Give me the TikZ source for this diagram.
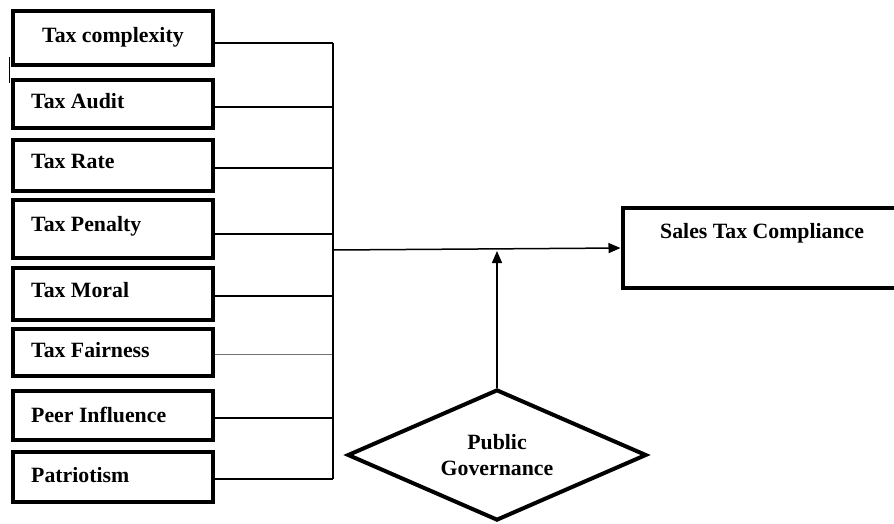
\documentclass[tikz,border=0pt]{standalone}
\usepackage{fontspec}
\setmainfont{Liberation Serif}
\usetikzlibrary{shapes.geometric,arrows.meta}
\tikzset{
  factorbox/.style={draw=black, line width=4pt, rectangle, inner sep=0pt, minimum width=200pt},
  lbl/.style={anchor=base west, inner sep=0pt, font=\fontsize{21.8}{26}\selectfont\bfseries},
  conn/.style={draw=black, line width=1.5pt},
  thinconn/.style={draw=black!55, line width=1pt},
  arr/.style={conn, -{Triangle[length=12pt,width=10pt]}},
}
\begin{document}
\begin{tikzpicture}[x=1pt,y=-1pt]
\useasboundingbox (0,0) rectangle (894,523);
% factor boxes
\node[factorbox, minimum height=54pt] (b1) at (113,38) {};
\node[factorbox, minimum height=48pt] (b2) at (113,104) {};
\node[factorbox, minimum height=51pt] (b3) at (113,165.5) {};
\node[factorbox, minimum height=58pt] (b4) at (113,229) {};
\node[factorbox, minimum height=52pt] (b5) at (113,294) {};
\node[factorbox, minimum height=47pt] (b6) at (113,352.5) {};
\node[factorbox, minimum height=49pt] (b7) at (113,415.5) {};
\node[factorbox, minimum height=50pt] (b8) at (113,477) {};
% labels
\node[lbl] (t1) at (42,42) {Tax complexity};
\node[lbl] (t2) at (31,108) {Tax Audit};
\node[lbl] (t3) at (31,168) {Tax Rate};
\node[lbl] (t4) at (31,231) {Tax Penalty};
\node[lbl] (t5) at (31,297) {Tax Moral};
\node[lbl] (t6) at (31,357) {Tax Fairness};
\node[lbl] (t7) at (31,422) {Peer Influence};
\node[lbl] (t8) at (31,482) {Patriotism};
% outcome box
\node[draw=black, line width=4pt, rectangle, inner sep=0pt, minimum width=277.5pt, minimum height=80pt] (sales) at (761.25,248) {};
\node[lbl] (ts) at (660,238) {Sales Tax Compliance};
% moderator
\node[draw=black, line width=4pt, diamond, inner sep=0pt, minimum width=299pt, minimum height=131pt, shape aspect=2.28, align=center, font=\fontsize{21.8}{26}\selectfont\bfseries] (pg) at (497,455) {Public\\Governance};
% bus junctions
\coordinate (j1) at (333,43);
\coordinate (j2) at (333,107);
\coordinate (j3) at (333,168);
\coordinate (j4) at (333,234);
\coordinate (j5) at (333,296);
\coordinate (j6) at (333,354);
\coordinate (j7) at (333,418);
\coordinate (j8) at (333,479);
\coordinate (m) at (333,250);
\coordinate (tip) at (497,251);
\draw[conn] (b1.east |- j1) -- (j1);
\draw[conn] (b2.east |- j2) -- (j2);
\draw[conn] (b3.east |- j3) -- (j3);
\draw[conn] (b4.east |- j4) -- (j4);
\draw[conn] (b5.east |- j5) -- (j5);
\draw[thinconn] (b6.east |- j6) -- (j6);
\draw[conn] (b7.east |- j7) -- (j7);
\draw[conn] (b8.east |- j8) -- (j8);
\draw[conn] (j1) -- (j8);
\draw[arr] (m) -- (sales.west);
\draw[arr] (pg.north) -- (tip);
% small stray mark left of first box
\coordinate (s1) at (9.5,57);
\coordinate (s2) at (9.5,83);
\draw[conn] (s1) -- (s2);
\end{tikzpicture}
\end{document}
